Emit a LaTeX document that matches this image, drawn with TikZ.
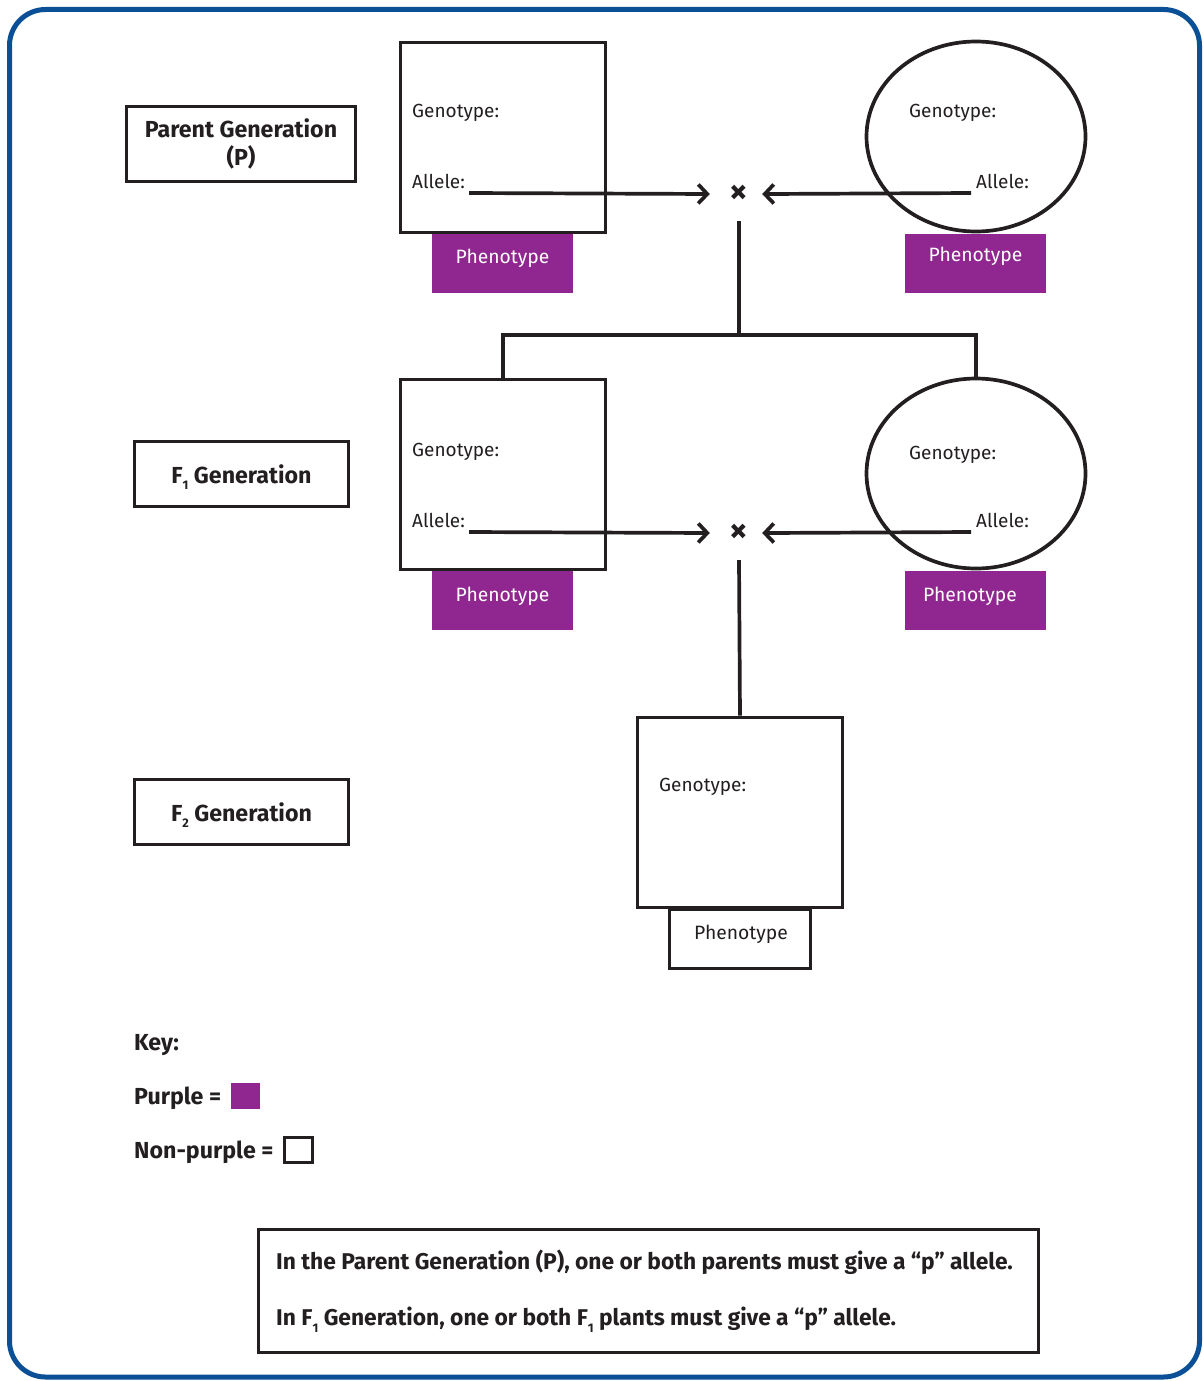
\documentclass[tikz,border=0pt]{standalone}
\usepackage{fontspec}
\setmainfont{Fira Sans}
\newfontfamily\rulefont{Fira Sans Bold}
\usetikzlibrary{shapes.geometric,arrows.meta}
\definecolor{frameblue}{RGB}{11,79,150}
\definecolor{plantpurple}{RGB}{144,38,143}
\definecolor{ink}{RGB}{35,31,32}
\newcommand\subdigit[1]{\raisebox{-0.55ex}{\fontsize{12.5}{12.5}\selectfont #1}}
\tikzset{
  box/.style={draw=ink,line width=3.7pt,inner sep=0pt,rectangle},
  plant/.style={box,minimum width=205pt,minimum height=190pt},
  oval/.style={draw=ink,line width=3.7pt,ellipse,inner sep=0pt,minimum width=219pt,minimum height=190pt},
  phbox/.style={fill=plantpurple,inner sep=0pt,minimum width=141pt,minimum height=59pt},
  gen/.style={box,minimum width=214pt,minimum height=65pt},
  lbl/.style={font=\fontsize{19}{22}\selectfont,text=ink,inner sep=0pt,anchor=west,yshift=-2.5pt},
  phtxt/.style={font=\fontsize{19.3}{22}\selectfont,text=white,inner sep=0pt,yshift=-2pt},
  gentxt/.style={font=\bfseries\fontsize{23.2}{28}\selectfont,text=ink,inner sep=0pt,align=center,yshift=-1pt},
  keytxt/.style={font=\bfseries\fontsize{23.2}{26}\selectfont,text=ink,inner sep=0pt,anchor=west,yshift=-2.5pt},
  ruletxt/.style={font=\rulefont\fontsize{22.8}{26}\selectfont,text=ink,inner sep=0pt,anchor=west,yshift=-1.5pt},
  crossmark/.style={font=\bfseries\fontsize{36}{36}\selectfont,text=ink,inner sep=0pt,minimum width=58pt,minimum height=54pt},
  conn/.style={draw=ink,line width=3.7pt},
  give/.style={conn,-{Straight Barb[length=9pt,width=19pt]}},
}
\begin{document}
\begin{tikzpicture}[x=1pt,y=-1pt]
\useasboundingbox (0,0) rectangle (1204,1381);
\begin{scope}
\clip (0,0) rectangle (1204,1381);
\draw[frameblue,line width=5pt,rounded corners=36pt] (9.5,9.5) rectangle (1199.5,1377);
\end{scope}

% generation labels
\node[box,minimum width=229pt,minimum height=75pt] (lblP) at (241,144) {};
\node[gentxt] (lblPtxt) at (241,143) {Parent Generation\\(P)};
\node[gen] (lblF1) at (241.5,474) {};
\node[gentxt] (lblF1txt) at (241.5,476) {F\subdigit{1}\ Generation};
\node[gen] (lblF2) at (241.5,812) {};
\node[gentxt] (lblF2txt) at (241.5,814) {F\subdigit{2}\ Generation};

% parent generation
\node[plant] (sqP) at (503,137.5) {};
\node[lbl] (sqPgen) at (412,110) {Genotype:};
\node[lbl] (sqPall) at (412,179) {Allele:};
\node[phbox] (phPl) at (502.5,263.5) {};
\node[phtxt] (phPltxt) at (502.5,256) {Phenotype};
\node[oval] (ovP) at (976,136.5) {};
\node[lbl] (ovPgen) at (909,110) {Genotype:};
\node[lbl] (ovPall) at (976,179) {Allele:};
\node[phbox] (phPr) at (975.5,263) {};
\node[phtxt] (phPrtxt) at (975.5,254) {Phenotype};
\node[crossmark] (crossP) at (739,194) {×};
\coordinate (aPl) at (469,193);
\coordinate (aPr) at (971,193);
\draw[give] (aPl) -- (crossP.west);
\draw[give,shorten >=-6pt] (aPr) -- (crossP.east);

% first filial generation
\node[plant] (sqF1) at (503,474.5) {};
\node[lbl] (sqF1gen) at (412,449) {Genotype:};
\node[lbl] (sqF1all) at (412,518) {Allele:};
\node[phbox] (phF1l) at (502.5,600.5) {};
\node[phtxt] (phF1ltxt) at (502.5,594) {Phenotype};
\node[oval] (ovF1) at (976,473.5) {};
\node[lbl] (ovF1gen) at (909,452) {Genotype:};
\node[lbl] (ovF1all) at (976,518) {Allele:};
\node[phbox] (phF1r) at (975.5,600.5) {};
\node[phtxt] (phF1rtxt) at (970,594) {Phenotype};
\node[crossmark] (crossF1) at (739,533) {×};
\coordinate (aF1l) at (469,532);
\coordinate (aF1r) at (971,532);
\draw[give] (aF1l) -- (crossF1.west);
\draw[give,shorten >=-6pt] (aF1r) -- (crossF1.east);

% branching from the parent cross
\coordinate (joinP) at (739,335);
\draw[conn] (crossP.south) -- (joinP);
\draw[conn] (sqF1.north) |- (joinP) -| (ovF1.north);

% second filial generation
\node[plant] (sqF2) at (740,812.5) {};
\node[lbl] (sqF2gen) at (659,784) {Genotype:};
\node[box,fill=white,minimum width=141pt,minimum height=59pt] (phF2) at (740,939) {};
\node[phtxt,text=ink] (phF2txt) at (741,932) {Phenotype};
\draw[conn] (crossF1.south) -- (sqF2.north);

% key
\node[keytxt] (keyhead) at (134,1043) {Key:};
\node[keytxt] (keypurple) at (134,1096) {Purple =};
\node[fill=plantpurple,inner sep=0pt,minimum width=29pt,minimum height=26pt] (swpurple) at (245.5,1096) {};
\node[keytxt] (keynon) at (134,1150) {Non-purple =};
\node[box,minimum width=28pt,minimum height=25pt] (swnon) at (298.5,1150) {};

% rule box
\node[box,minimum width=780pt,minimum height=123pt] (rules) at (648.5,1291) {};
\node[ruletxt] (rule1) at (276,1261) {In the Parent Generation (P), one or both parents must give a “p” allele.};
\node[ruletxt] (rule2) at (276,1318) {In F\subdigit{1}\ Generation, one or both F\subdigit{1}\ plants must give a “p” allele.};
\end{tikzpicture}
\end{document}
